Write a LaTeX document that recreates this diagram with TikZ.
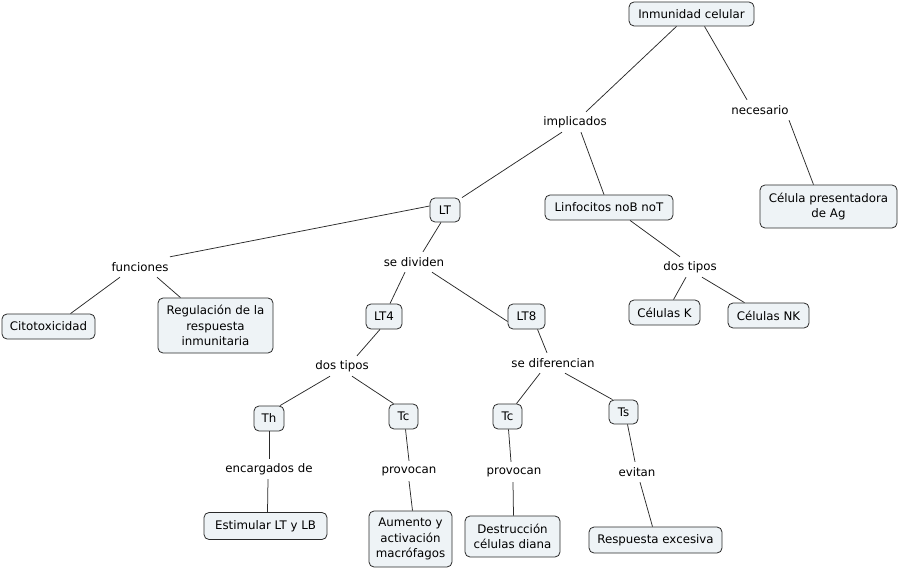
\documentclass[tikz,border=0pt]{standalone}
\usepackage{fontspec}
\setmainfont{DejaVu Sans}
\definecolor{boxfill}{HTML}{EEF3F6}
\definecolor{edgecol}{HTML}{2A2A2A}
\begin{document}
\begin{tikzpicture}[x=1pt,y=-1pt,
  every node/.style={font=\fontsize{11.8}{15.5}\selectfont, text=black},
  concept/.style={draw=edgecol, line width=0.8pt, rounded corners=5pt, fill=boxfill, inner sep=0pt, align=center},
  lbl/.style={inner sep=0pt, minimum height=20pt},
  conn/.style={draw=edgecol, line width=0.75pt}]
\useasboundingbox (0,0) rectangle (899,569);
% concepts
\node[concept, minimum width=125pt, minimum height=24pt] (inm) at (691.5,14) {Inmunidad celular};
\node[concept, minimum width=30pt, minimum height=24pt] (LT) at (445,210) {LT};
\node[concept, minimum width=128pt, minimum height=25pt] (lin) at (609,207.5) {Linfocitos noB noT};
\node[concept, minimum width=137pt, minimum height=43pt] (cel) at (828.5,206.5) {Célula presentadora\\de Ag};
\node[concept, minimum width=93pt, minimum height=25pt] (cit) at (48.5,326.5) {Citotoxicidad};
\node[concept, minimum width=115pt, minimum height=55pt] (reg) at (215.5,325.5) {Regulación de la\\respuesta\\inmunitaria};
\node[concept, minimum width=36pt, minimum height=25pt] (lt4) at (384,316.5) {LT4};
\node[concept, minimum width=37pt, minimum height=25pt] (lt8) at (526.5,316.5) {LT8};
\node[concept, minimum width=71pt, minimum height=25pt] (ck) at (664.5,312.5) {Células K};
\node[concept, minimum width=81pt, minimum height=25pt] (cnk) at (768.5,315.5) {Células NK};
\node[concept, minimum width=30pt, minimum height=25pt] (th) at (269,418.5) {Th};
\node[concept, minimum width=29pt, minimum height=25pt] (tc1) at (403.5,416.5) {Tc};
\node[concept, minimum width=29pt, minimum height=25pt] (tc2) at (507.5,416.5) {Tc};
\node[concept, minimum width=29pt, minimum height=24pt] (ts) at (623.5,412) {Ts};
\node[concept, minimum width=123pt, minimum height=27pt] (est) at (265.5,526) {Estimular LT y LB};
\node[concept, minimum width=83pt, minimum height=56pt] (aum) at (410.5,539) {Aumento y\\activación\\macrófagos};
\node[concept, minimum width=95pt, minimum height=41pt] (des) at (512.5,536.5) {Destrucción\\células diana};
\node[concept, minimum width=133pt, minimum height=26pt] (res) at (655.5,540) {Respuesta excesiva};
% labels
\node[lbl] (impl) at (575,122) {implicados};
\node[lbl] (nec) at (760,110) {necesario};
\node[lbl] (fun) at (140,267) {funciones};
\node[lbl] (div) at (414,262) {se dividen};
\node[lbl] (dt1) at (690,267) {dos tipos};
\node[lbl] (dt2) at (342,366) {dos tipos};
\node[lbl] (dif) at (553,363) {se diferencian};
\node[lbl] (enc) at (269,469) {encargados de};
\node[lbl] (prov1) at (409,471) {provocan};
\node[lbl] (prov2) at (514,472) {provocan};
\node[lbl] (evi) at (637,472) {evitan};
% connectors
\draw[conn] ([xshift=-15]inm.south) -- ([xshift=11]impl.north);
\draw[conn] ([xshift=13]inm.south) -- ([xshift=-13]nec.north);
\draw[conn] ([xshift=-13]impl.south) -- ([xshift=17]LT.north);
\draw[conn] ([xshift=6]impl.south) -- ([xshift=-5]lin.north);
\draw[conn] ([xshift=29]nec.south) -- ([xshift=-15]cel.north);
\draw[conn] ([yshift=4]LT.west) -- ([xshift=30]fun.north);
\draw[conn] ([xshift=-4]LT.south) -- ([xshift=9]div.north);
\draw[conn] ([xshift=-20]fun.south) -- ([xshift=22]cit.north);
\draw[conn] ([xshift=17]fun.south) -- ([xshift=-35]reg.north);
\draw[conn] ([xshift=-9]div.south) -- ([xshift=6]lt4.north);
\draw[conn] ([xshift=18]div.south) -- ([yshift=-5]lt8.west);
\draw[conn] ([xshift=21]lin.south) -- ([xshift=-10]dt1.north);
\draw[conn] ([xshift=-4]dt1.south) -- ([xshift=9]ck.north);
\draw[conn] ([xshift=12]dt1.south) -- ([xshift=-24]cnk.north);
\draw[conn] ([xshift=-4]lt4.south) -- ([xshift=15]dt2.north);
\draw[conn] ([xshift=-12]dt2.south) -- ([xshift=11]th.north);
\draw[conn] ([xshift=10]dt2.south) -- ([xshift=-10]tc1.north);
\draw[conn] ([xshift=11]lt8.south) -- ([xshift=-6]dif.north);
\draw[conn] ([xshift=-13]dif.south) -- ([xshift=9]tc2.north);
\draw[conn] ([xshift=12]dif.south) -- ([xshift=-11]ts.north);
\draw[conn] (th.south) -- (enc.north);
\draw[conn] ([xshift=-1]enc.south) -- ([xshift=2]est.north);
\draw[conn] ([xshift=2]tc1.south) -- (prov1.north);
\draw[conn] (prov1.south) -- ([xshift=2]aum.north);
\draw[conn] ([xshift=1]tc2.south) -- ([xshift=-3]prov2.north);
\draw[conn] ([xshift=-1]prov2.south) -- ([xshift=1]des.north);
\draw[conn] ([xshift=4]ts.south) -- ([xshift=-2]evi.north);
\draw[conn] ([xshift=3]evi.south) -- ([xshift=-3]res.north);
\end{tikzpicture}
\end{document}
